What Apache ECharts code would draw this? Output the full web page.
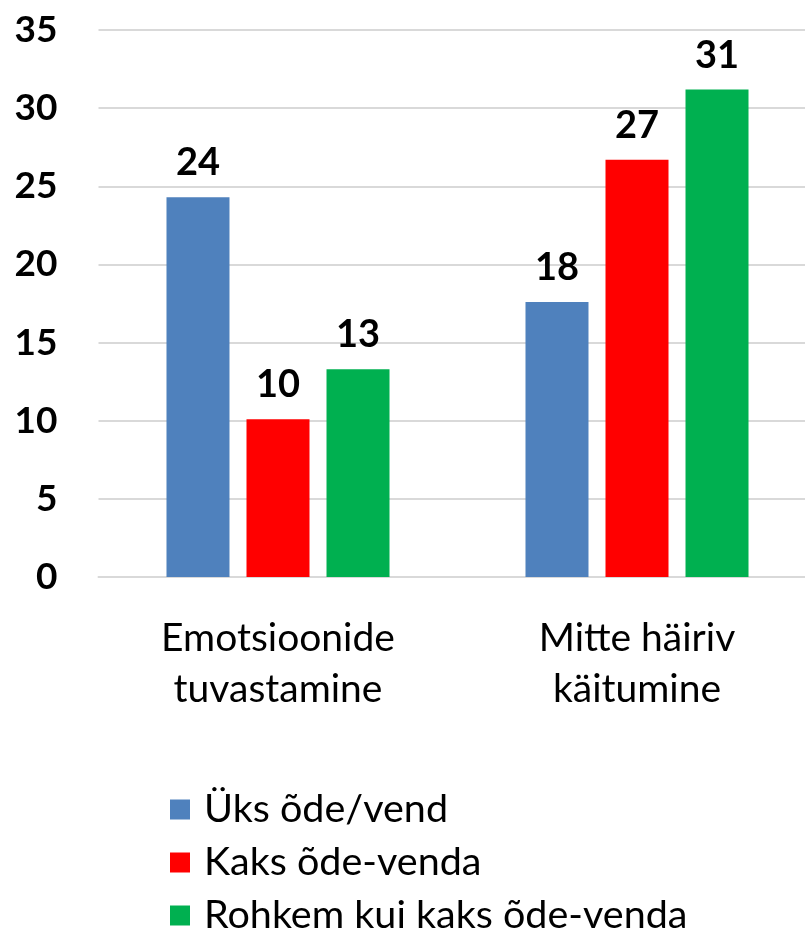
<!DOCTYPE html>
<html>
<head>
<meta charset="utf-8">
<script src="https://cdn.jsdelivr.net/npm/echarts@6/dist/echarts.min.js"></script>
<style>
html,body{margin:0;padding:0;background:#fff;overflow:hidden;width:805px;height:928px;}
#chart{width:840px;height:1000px;}
</style>
</head>
<body>
<div id="chart"></div>
<script>
var categories = ['Emotsioonide\ntuvastamine', 'Mitte häiriv\nkäitumine'];
var seriesNames = ['Üks õde/vend', 'Kaks õde-venda', 'Rohkem kui kaks õde-venda'];
var ueksValues = [24.3, 17.6];
var kaksValues = [10.1, 26.7];
var rohkemValues = [13.3, 31.2];
var colors = ['#4F81BD', '#FF0000', '#00B050'];
var yMin = 0, yMax = 35, yInterval = 5;

var FONT = 'Lato, "Open Sans", sans-serif';
var chart = echarts.init(document.getElementById('chart'), null, {renderer: 'canvas'});
var dataSets = [ueksValues, kaksValues, rohkemValues];
var series = dataSets.map(function (vals, i) {
  return {
    name: seriesNames[i],
    type: 'bar',
    data: vals,
    barWidth: 63,
    barGap: '27%',
    itemStyle: {color: colors[i]},
    label: {
      show: true,
      position: 'top',
      distance: 15,
      formatter: function (p) { return Math.round(p.value); },
      fontFamily: FONT,
      fontWeight: 'bold',
      fontSize: 38,
      color: '#000'
    }
  };
});
chart.setOption({
  animation: false,
  textStyle: {fontFamily: FONT},
  grid: {left: 98.5, width: 718, top: 30, height: 547, containLabel: false},
  legend: {
    orient: 'vertical',
    left: 170,
    top: 789.5,
    padding: 0,
    icon: 'rect',
    itemWidth: 20,
    itemHeight: 20,
    itemGap: 13,
    textStyle: {fontFamily: FONT, fontSize: 39.5, color: '#000', padding: [0,0,0,9]},
    data: seriesNames
  },
  xAxis: {
    type: 'category',
    data: categories,
    axisLine: {show: true, lineStyle: {color: '#d9d9d9', width: 2}},
    axisTick: {show: false},
    axisLabel: {fontFamily: FONT, fontSize: 39, color: '#000', lineHeight: 51, margin: 36}
  },
  yAxis: {
    type: 'value',
    min: yMin, max: yMax, interval: yInterval,
    axisLine: {show: false},
    axisTick: {show: false},
    splitLine: {lineStyle: {color: '#d9d9d9', width: 2}},
    axisLabel: {fontFamily: FONT, fontWeight: 'bold', fontSize: 37, color: '#000', margin: 41}
  },
  series: series
});
</script>
</body>
</html>
